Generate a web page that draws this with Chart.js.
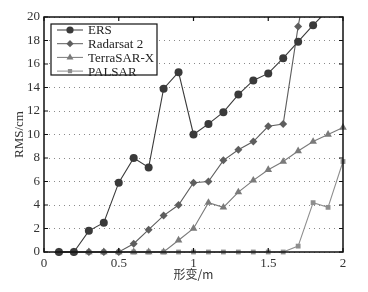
<!DOCTYPE html>
<html lang="zh">
<head>
<meta charset="UTF-8" />
<title>RMS vs 形变</title>
<script src="https://cdn.jsdelivr.net/npm/chart.js"></script>
<style>
  html, body { margin: 0; padding: 0; background: #fff; }
  #wrap { width: 368px; height: 292px; }
</style>
</head>
<body>
<div id="wrap"><canvas id="c" width="368" height="292"></canvas></div>
<script>
// deformation (m)
const xVals = [0.1, 0.2, 0.3, 0.4, 0.5, 0.6, 0.7, 0.8, 0.9, 1.0, 1.1, 1.2, 1.3, 1.4, 1.5, 1.6, 1.7, 1.8, 1.9, 2.0];
// RMS (cm); values above 20 run off the top of the plot
const ers       = [0, 0, 1.8, 2.5, 5.9, 8.0, 7.2, 13.9, 15.3, 10.0, 10.9, 11.9, 13.4, 14.6, 15.2, 16.5, 17.9, 19.3, 20.6, 22.0];
const radarsat  = [0, 0, 0, 0, 0, 0.7, 1.9, 3.1, 4.0, 5.9, 6.0, 7.8, 8.7, 9.4, 10.7, 10.9, 19.2, 26.0, null, null];
const terrasar  = [0, 0, 0, 0, 0, 0, 0, 0, 1.0, 2.0, 4.2, 3.8, 5.1, 6.1, 7.0, 7.7, 8.6, 9.4, 10.0, 10.6];
const palsar    = [0, 0, 0, 0, 0, 0, 0, 0, 0, 0, 0, 0, 0, 0, 0, 0, 0.5, 4.2, 3.8, 7.7];
const xTicks = [0, 0.5, 1, 1.5, 2];
const yTicks = [0, 2, 4, 6, 8, 10, 12, 14, 16, 18, 20];

const FONT = "'Liberation Serif', 'DejaVu Serif', serif";

function pts(arr) {
  return xVals.map((x, i) => ({ x: x, y: arr[i] })).filter(p => p.y !== null);
}

const series = [
  { label: "ERS",         data: ers,      color: "#3a3a3a", style: "circle",   r: 4 },
  { label: "Radarsat 2",  data: radarsat, color: "#5e5e5e", style: "rectRot",  r: 4 },
  { label: "TerraSAR-X",  data: terrasar, color: "#7a7a7a", style: "triangle", r: 4.4 },
  { label: "PALSAR",      data: palsar,   color: "#8e8e8e", style: "rect",     r: 3.4 }
];

// frame, inward ticks and the boxed legend
const framePlugin = {
  id: "frame",
  afterDraw(chart) {
    const ctx = chart.ctx;
    const a = chart.chartArea;
    const xs = chart.scales.x, ys = chart.scales.y;
    ctx.save();
    ctx.setLineDash([]);
    ctx.strokeStyle = "#111";
    ctx.lineWidth = 1.5;
    ctx.strokeRect(a.left, a.top, a.right - a.left, a.bottom - a.top);
    ctx.lineWidth = 1.2;
    ctx.beginPath();
    xTicks.forEach(t => {
      const px = xs.getPixelForValue(t);
      ctx.moveTo(px, a.bottom); ctx.lineTo(px, a.bottom - 4);
      ctx.moveTo(px, a.top); ctx.lineTo(px, a.top + 4);
    });
    yTicks.forEach(t => {
      const py = ys.getPixelForValue(t);
      ctx.moveTo(a.left, py); ctx.lineTo(a.left + 4, py);
      ctx.moveTo(a.right, py); ctx.lineTo(a.right - 4, py);
    });
    ctx.stroke();

    // legend
    const lx = a.left + 7, ly = a.top + 7, lw = 106, lh = 51;
    ctx.fillStyle = "#fff";
    ctx.fillRect(lx, ly, lw, lh);
    ctx.strokeStyle = "#111";
    ctx.lineWidth = 1.2;
    ctx.strokeRect(lx, ly, lw, lh);
    ctx.font = "13px " + FONT;
    ctx.textBaseline = "middle";
    series.forEach((s, i) => {
      const y = ly + 6 + i * 13.7;
      ctx.strokeStyle = s.color;
      ctx.lineWidth = 1;
      ctx.beginPath();
      ctx.moveTo(lx + 6, y); ctx.lineTo(lx + 32, y);
      ctx.stroke();
      ctx.fillStyle = s.color;
      Chart.helpers.drawPoint(ctx, { pointStyle: s.style, radius: s.r - 0.4, borderWidth: 0 }, lx + 19, y);
      ctx.fillStyle = "#222";
      ctx.fillText(s.label, lx + 37, y + 1);
    });
    ctx.restore();
  }
};

new Chart(document.getElementById("c"), {
  type: "line",
  data: {
    datasets: series.map(s => ({
      label: s.label,
      data: pts(s.data),
      borderColor: s.color,
      backgroundColor: s.color,
      borderWidth: 1.1,
      pointStyle: s.style,
      pointRadius: s.r,
      pointBorderWidth: 0,
      tension: 0,
      clip: { left: 6, right: 6, top: 0, bottom: 8 }
    }))
  },
  options: {
    responsive: false,
    animation: false,
    layout: { padding: { left: 0, right: 25, top: 17, bottom: 0 } },
    plugins: { legend: { display: false }, tooltip: { enabled: false } },
    scales: {
      x: {
        type: "linear",
        min: 0, max: 2,
        afterBuildTicks(scale) { scale.ticks = xTicks.map(v => ({ value: v })); },
        afterFit(scale) { scale.height = 40; },
        grid: { display: false, drawTicks: false },
        border: { display: false },
        ticks: { color: "#333", font: { family: FONT, size: 13 }, padding: 4, maxRotation: 0, callback: v => String(v) },
        title: { display: true, text: "形变/m", color: "#333", font: { family: "'Noto Sans CJK SC', " + FONT, size: 12 }, padding: { top: 0, bottom: 10 } }
      },
      y: {
        min: 0, max: 20,
        afterBuildTicks(scale) { scale.ticks = yTicks.map(v => ({ value: v })); },
        afterFit(scale) { scale.width = 44; },
        grid: { color: "#8a8a8a", lineWidth: 1, drawTicks: false },
        border: { display: false, dash: [1, 4] },
        ticks: { color: "#333", font: { family: FONT, size: 13 }, padding: 4 },
        title: { display: true, text: "RMS/cm", color: "#333", font: { family: FONT, size: 13 }, padding: { top: 12, bottom: 0 } }
      }
    }
  },
  plugins: [framePlugin]
});
</script>
</body>
</html>
